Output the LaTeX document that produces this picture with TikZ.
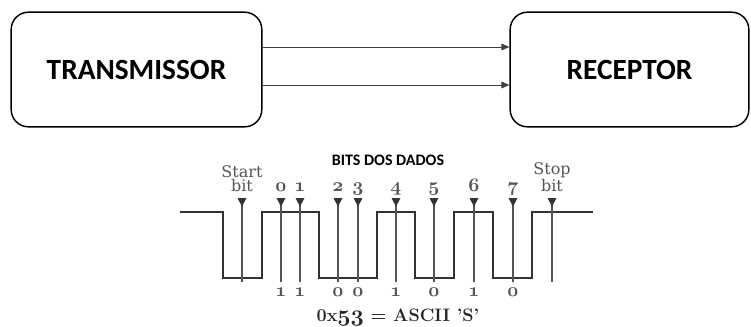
\documentclass[tikz,border=0pt]{standalone}
\usepackage{fontspec}
\newfontfamily\calfont{Carlito}
\newfontfamily\slabfont{DejaVu Serif}
\usetikzlibrary{arrows.meta}
\newcommand\osn[1]{{\usefont{OML}{cmm}{b}{it}#1}}
\definecolor{lblgray}{HTML}{555555}
\definecolor{wavecol}{HTML}{333333}
\tikzset{
  block/.style={draw, line width=1.1pt, rounded corners=13pt, minimum height=86pt,
    font=\calfont\bfseries\fontsize{22}{24}\selectfont},
  link/.style={draw=black!75, line width=0.6pt, -{Triangle[length=6pt,width=5pt]}},
  wave/.style={draw=wavecol, line width=1.1pt},
  marker/.style={draw=lblgray, line width=0.8pt},
  tri/.style={fill=wavecol},
  lbl/.style={text=lblgray, font=\slabfont\fontsize{12}{10.5}\selectfont, inner sep=0pt,
    align=center, anchor=south},
  dig/.style={text=lblgray, font=\fontsize{15}{16}\selectfont, inner sep=0pt, anchor=base},
  title/.style={text=black!85, font=\bfseries\fontsize{13.5}{14}\selectfont, inner sep=0pt, anchor=base}
}
\begin{document}
\begin{tikzpicture}[x=0.75pt,y=-0.75pt]
\useasboundingbox (0,0) rectangle (751,326);
\node[block, minimum width=188pt] (tx) at (136.5,69.5) {TRANSMISSOR};
\node[block, minimum width=179pt] (rx) at (629.5,69.5) {RECEPTOR};
\coordinate (l1) at (0,47);
\coordinate (l2) at (0,85);
\draw[link] (tx.east |- l1) -- (rx.west |- l1);
\draw[link] (tx.east |- l2) -- (rx.west |- l2);

\node[font=\calfont\bfseries\fontsize{12}{13}\selectfont] (hdr) at (388,160) {BITS DOS DADOS};

\draw[wave] (180,212) -- (223,212) -- (223,278) -- (262,278) -- (262,212) -- (319,212)
  -- (319,278) -- (377,278) -- (377,212) -- (415,212) -- (415,278) -- (454,278)
  -- (454,212) -- (493,212) -- (493,278) -- (532,278) -- (532,212) -- (593,212);

\foreach \x in {242,281,300,338,358,396,434,474,513,552}{
  \draw[marker] (\x,199) -- (\x,282);
  \fill[tri] (\x-4.5,198) -- (\x+4.5,198) -- (\x,206.5) -- cycle;
}
\node[lbl] (st) at (242,191.5) {Start\\bit};
\node[lbl] (sp) at (552,191.5) {Stop\\bit};
\foreach \x/\d in {281/0,300/1,338/2,358/3,396/4,434/5,474/6,513/7}{
  \node[dig] at (\x,191) {\osn{\d}};
}
\foreach \x/\d in {281/1,300/1,338/0,358/0,396/1,434/0,474/1,513/0}{
  \node[dig] at (\x,296) {\osn{\d}};
}
\node[title] (res) at (398,321) {0x{\fontsize{16}{16}\selectfont\osn{53}} = ASCII 'S'};
\end{tikzpicture}
\end{document}
